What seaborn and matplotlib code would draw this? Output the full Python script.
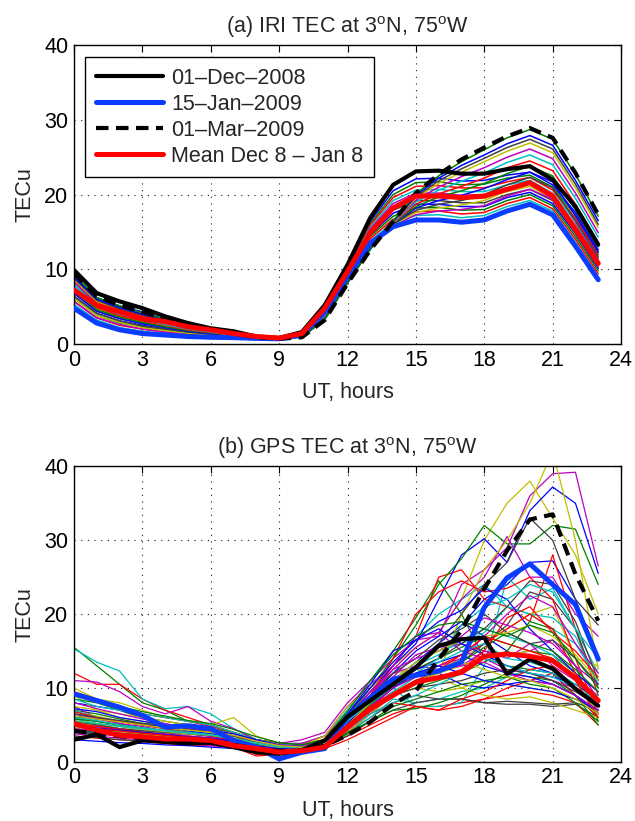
import numpy as np
import pandas as pd
import matplotlib
matplotlib.use("Agg")
import matplotlib.pyplot as plt
import seaborn as sns

hours = list(range(24))

# ---------- Panel (a): IRI TEC ----------
iri_dec01 = [9.9, 6.8, 5.7, 4.8, 3.7, 2.8, 2.1, 1.7, 1.0, 0.8, 1.6, 5.2, 10.6, 16.9, 21.3, 23.1, 23.2, 22.8, 22.8, 23.4, 23.8, 22.0, 18.4, 13.3]
iri_jan15 = [4.8, 2.8, 1.9, 1.4, 1.2, 1.0, 0.9, 0.85, 0.75, 0.7, 1.2, 4.3, 9.0, 13.5, 15.7, 16.6, 16.6, 16.3, 16.6, 17.8, 18.7, 17.3, 13.1, 8.6]
iri_mar01 = [9.5, 6.4, 5.2, 4.3, 3.4, 2.6, 2.0, 1.4, 0.9, 0.7, 0.9, 3.2, 8.1, 12.6, 16.4, 20.2, 22.7, 24.7, 26.3, 27.8, 28.9, 27.6, 22.9, 17.3]
iri_mean = [7.2, 5.2, 4.3, 3.4, 3.0, 2.3, 1.9, 1.4, 1.0, 0.8, 1.4, 4.8, 9.7, 14.9, 18.2, 19.8, 19.8, 19.6, 19.8, 20.7, 21.6, 19.8, 15.3, 10.8]

iri_days = [
    [9.1, 6.2, 5.1, 4.3, 3.3, 2.5, 1.9, 1.6, 1.0, 0.8, 1.5, 5.1, 10.4, 16.4, 20.5, 22.1, 22.2, 21.8, 21.9, 22.6, 23.0, 21.3, 17.6, 12.6],
    [8.7, 5.9, 4.8, 4.0, 3.1, 2.4, 1.8, 1.5, 0.95, 0.8, 1.5, 5.0, 10.2, 16.1, 20.0, 21.6, 21.7, 21.3, 21.4, 22.2, 22.6, 21.0, 17.2, 12.2],
    [8.4, 5.6, 4.6, 3.8, 2.9, 2.3, 1.7, 1.4, 0.9, 0.8, 1.5, 4.9, 10.1, 15.9, 19.6, 21.1, 21.2, 20.9, 20.9, 21.7, 22.3, 20.6, 16.8, 11.9],
    [8.0, 5.3, 4.3, 3.5, 2.7, 2.1, 1.6, 1.35, 0.9, 0.8, 1.45, 4.85, 10.0, 15.6, 19.2, 20.6, 20.7, 20.4, 20.4, 21.3, 21.9, 20.2, 16.4, 11.5],
    [7.6, 5.0, 4.0, 3.3, 2.6, 2.0, 1.6, 1.3, 0.9, 0.8, 1.4, 4.8, 9.9, 15.4, 18.8, 20.2, 20.2, 19.9, 20.0, 20.9, 21.5, 19.9, 16.0, 11.2],
    [7.2, 4.7, 3.7, 3.0, 2.4, 1.85, 1.5, 1.25, 0.88, 0.78, 1.4, 4.75, 9.7, 15.1, 18.3, 19.7, 19.7, 19.4, 19.5, 20.4, 21.1, 19.5, 15.6, 10.8],
    [6.8, 4.4, 3.4, 2.8, 2.2, 1.7, 1.4, 1.2, 0.85, 0.75, 1.4, 4.7, 9.6, 14.9, 17.9, 19.2, 19.2, 18.9, 18.9, 20.0, 20.7, 19.2, 15.2, 10.5],
    [6.4, 4.1, 3.1, 2.5, 2.0, 1.55, 1.3, 1.15, 0.82, 0.72, 1.35, 4.6, 9.5, 14.6, 17.5, 18.7, 18.7, 18.4, 18.4, 19.6, 20.3, 18.8, 14.8, 10.1],
    [6.1, 3.8, 2.8, 2.3, 1.8, 1.4, 1.2, 1.1, 0.8, 0.7, 1.3, 4.5, 9.4, 14.4, 17.1, 18.2, 18.3, 17.9, 18.0, 19.2, 20.0, 18.5, 14.4, 9.8],
    [5.7, 3.5, 2.5, 2.0, 1.6, 1.3, 1.1, 1.0, 0.8, 0.7, 1.25, 4.45, 9.2, 14.1, 16.7, 17.7, 17.8, 17.4, 17.6, 18.8, 19.6, 18.1, 14.0, 9.4],
    [5.3, 3.2, 2.2, 1.7, 1.4, 1.2, 1.0, 0.9, 0.8, 0.7, 1.2, 4.4, 9.1, 13.8, 16.3, 17.2, 17.3, 16.9, 17.2, 18.4, 19.2, 17.8, 13.6, 9.0],
    [5.7, 3.5, 2.6, 2.0, 1.6, 1.3, 1.1, 0.95, 0.8, 0.7, 1.1, 4.1, 8.8, 13.3, 15.8, 17.3, 17.8, 18.0, 18.5, 19.8, 20.7, 19.4, 15.1, 10.3],
    [6.1, 3.8, 2.9, 2.2, 1.8, 1.45, 1.2, 1.0, 0.8, 0.7, 1.1, 4.0, 8.75, 13.25, 15.9, 17.6, 18.2, 18.6, 19.2, 20.5, 21.5, 20.1, 15.8, 10.9],
    [6.4, 4.1, 3.1, 2.4, 2.0, 1.6, 1.3, 1.0, 0.8, 0.7, 1.1, 3.9, 8.7, 13.2, 16.0, 17.9, 18.7, 19.2, 20.0, 21.3, 22.3, 20.9, 16.5, 11.6],
    [6.8, 4.4, 3.4, 2.7, 2.2, 1.7, 1.4, 1.05, 0.8, 0.7, 1.05, 3.85, 8.65, 13.15, 16.05, 18.2, 19.2, 19.9, 20.8, 22.0, 23.0, 21.7, 17.2, 12.3],
    [7.2, 4.6, 3.6, 2.9, 2.3, 1.8, 1.5, 1.1, 0.8, 0.7, 1.0, 3.8, 8.6, 13.1, 16.1, 18.4, 19.7, 20.5, 21.5, 22.8, 23.8, 22.5, 18.0, 13.0],
    [7.5, 4.9, 3.8, 3.1, 2.5, 1.9, 1.55, 1.15, 0.82, 0.7, 1.0, 3.7, 8.5, 13.0, 16.15, 18.7, 20.1, 21.1, 22.2, 23.6, 24.5, 23.2, 18.7, 13.6],
    [7.9, 5.1, 4.0, 3.3, 2.6, 2.0, 1.6, 1.2, 0.85, 0.7, 1.0, 3.6, 8.4, 12.9, 16.2, 19.0, 20.6, 21.8, 22.9, 24.3, 25.3, 24.0, 19.5, 14.3],
    [8.3, 5.4, 4.3, 3.5, 2.8, 2.15, 1.7, 1.25, 0.88, 0.7, 1.0, 3.5, 8.35, 12.85, 16.25, 19.25, 21.0, 22.4, 23.6, 25.0, 26.1, 24.8, 20.2, 14.9],
    [8.6, 5.7, 4.5, 3.7, 3.0, 2.3, 1.8, 1.3, 0.9, 0.7, 1.0, 3.4, 8.3, 12.8, 16.3, 19.5, 21.5, 23.0, 24.4, 25.8, 26.9, 25.6, 20.9, 15.6],
    [8.8, 5.85, 4.7, 3.85, 3.1, 2.35, 1.85, 1.32, 0.9, 0.7, 0.97, 3.35, 8.25, 12.75, 16.35, 19.7, 21.85, 23.45, 24.85, 26.3, 27.4, 26.1, 21.4, 16.0],
    [9.0, 6.0, 4.9, 4.0, 3.2, 2.4, 1.9, 1.35, 0.9, 0.7, 0.95, 3.3, 8.2, 12.7, 16.4, 19.9, 22.2, 23.9, 25.3, 26.8, 27.9, 26.6, 21.9, 16.5],
    [9.3, 6.2, 5.1, 4.2, 3.3, 2.5, 1.95, 1.4, 0.9, 0.7, 0.92, 3.25, 8.15, 12.65, 16.45, 20.1, 22.5, 24.4, 26.0, 27.6, 28.7, 27.4, 22.7, 17.1],
]

# ---------- Panel (b): GPS TEC ----------
gps_dec01 = [3.0, 3.7, 2.0, 2.9, 2.7, 2.5, 2.6, 2.0, 1.3, 1.1, 1.6, 2.9, 6.1, 8.3, 10.5, 12.8, 15.7, 16.6, 16.8, 11.9, 13.9, 12.6, 9.9, 7.6]
gps_jan15 = [9.2, 8.3, 7.4, 6.3, 4.7, 4.9, 4.5, 2.9, 2.0, 0.4, 1.3, 1.8, 6.1, 8.7, 11.2, 11.7, 12.3, 13.5, 20.9, 24.9, 26.8, 24.0, 21.3, 13.9]
gps_mar01 = [4.2, 3.8, 3.5, 3.2, 3.0, 2.9, 2.7, 2.3, 1.8, 1.5, 1.5, 2.2, 3.6, 5.4, 7.8, 9.6, 13.9, 17.8, 23.4, 28.6, 32.8, 33.5, 25.4, 19.1]
gps_mean = [5.2, 4.3, 3.6, 3.4, 3.1, 3.1, 2.9, 2.2, 1.8, 1.3, 1.5, 2.0, 4.7, 7.2, 9.0, 10.8, 11.4, 12.1, 14.3, 14.6, 14.3, 13.7, 11.4, 8.3]

gps_days = [
    [6.5, 6.0, 5.2, 4.5, 4.0, 3.8, 3.5, 3.0, 2.5, 2.0, 2.2, 2.8, 5.5, 8.5, 11.0, 13.5, 16.0, 18.5, 22.0, 24.0, 27.0, 27.2, 22.0, 14.0],
    [15.5, 13.0, 10.5, 8.0, 7.0, 5.5, 5.0, 4.0, 3.0, 2.5, 2.5, 3.0, 7.0, 11.0, 15.0, 19.5, 24.5, 20.0, 14.0, 13.0, 12.5, 12.0, 9.0, 6.0],
    [12.0, 10.5, 10.5, 8.5, 7.0, 6.0, 5.0, 4.0, 2.5, 2.0, 2.5, 3.5, 6.5, 9.0, 13.0, 17.0, 25.0, 26.0, 22.0, 21.0, 19.0, 28.0, 18.0, 9.0],
    [15.3, 13.5, 12.3, 8.5, 7.2, 7.5, 6.5, 4.5, 3.0, 2.5, 2.5, 3.5, 7.0, 11.0, 14.5, 17.0, 20.0, 22.0, 24.0, 21.0, 20.0, 18.0, 16.0, 11.0],
    [11.0, 10.8, 9.5, 7.5, 6.5, 7.5, 5.5, 4.5, 3.0, 2.5, 3.0, 4.0, 8.0, 11.0, 14.0, 16.5, 17.0, 24.0, 26.0, 29.0, 36.0, 39.0, 39.2, 26.5],
    [10.0, 8.5, 8.0, 7.0, 6.0, 5.5, 5.0, 6.0, 3.5, 2.5, 2.0, 3.0, 6.5, 10.0, 13.0, 15.5, 17.5, 22.0, 30.0, 35.0, 38.0, 33.0, 28.0, 20.0],
    [5.0, 4.5, 4.0, 3.5, 3.2, 3.0, 2.8, 2.5, 2.2, 1.8, 1.5, 2.0, 4.0, 6.0, 8.0, 9.0, 8.5, 8.5, 8.0, 7.8, 7.8, 7.5, 7.8, 6.0],
    [8.0, 7.5, 7.0, 6.0, 5.0, 4.5, 4.2, 3.5, 2.8, 2.2, 2.0, 2.8, 6.0, 9.5, 13.0, 16.0, 22.0, 28.0, 30.2, 27.0, 34.0, 37.2, 35.0, 25.5],
    [7.0, 6.5, 5.8, 5.2, 4.8, 4.5, 4.0, 3.5, 2.8, 2.2, 2.0, 3.0, 6.0, 10.0, 14.0, 18.5, 24.0, 27.5, 32.0, 29.5, 29.5, 32.0, 31.5, 24.0],
    [4.5, 4.0, 3.5, 3.2, 3.0, 2.8, 2.5, 2.2, 1.2, 1.0, 1.2, 1.8, 3.0, 4.5, 6.0, 7.5, 7.5, 8.0, 8.5, 9.0, 9.5, 9.0, 8.0, 5.0],
    [5.5, 5.0, 4.5, 4.0, 3.8, 3.5, 3.2, 3.0, 2.5, 2.0, 2.0, 2.5, 5.0, 8.0, 10.0, 7.5, 7.5, 8.0, 13.0, 25.0, 22.0, 23.5, 18.0, 12.0],
    [7.5, 6.0, 5.5, 5.0, 4.5, 4.0, 3.5, 3.0, 2.5, 2.2, 2.5, 3.5, 7.5, 10.5, 13.0, 17.0, 17.5, 22.0, 25.0, 30.5, 25.0, 25.0, 20.0, 17.0],
    [9.0, 7.0, 6.0, 5.5, 5.0, 4.8, 4.5, 4.0, 3.0, 2.5, 2.2, 3.5, 7.5, 10.0, 12.0, 12.5, 12.0, 20.0, 26.0, 30.0, 35.0, 42.0, 30.0, 12.5],
    [6.0, 5.5, 5.0, 4.5, 4.0, 4.5, 4.0, 3.5, 2.5, 2.0, 2.0, 2.5, 5.0, 8.0, 11.0, 13.0, 16.0, 20.0, 24.0, 27.0, 33.0, 30.0, 22.0, 18.5],
    [5.0, 4.5, 4.2, 4.0, 3.5, 3.2, 3.0, 2.5, 2.0, 1.5, 1.8, 2.5, 5.0, 8.5, 12.0, 15.0, 17.0, 19.0, 17.0, 15.0, 13.0, 12.0, 10.0, 8.0],
    [6.0, 5.5, 5.0, 4.5, 4.2, 4.0, 3.8, 3.2, 2.5, 2.0, 1.8, 2.5, 5.0, 7.0, 9.0, 10.0, 11.0, 12.0, 13.5, 15.0, 19.0, 18.0, 13.0, 5.5],
    [3.5, 3.2, 3.0, 2.8, 2.5, 2.3, 2.2, 2.0, 0.8, 1.0, 1.5, 2.5, 3.5, 5.0, 6.5, 7.5, 7.0, 7.5, 8.5, 10.0, 11.0, 12.0, 9.0, 6.0],
    [4.0, 4.2, 3.8, 3.5, 3.2, 3.0, 2.8, 2.5, 2.0, 1.5, 1.5, 2.2, 4.0, 6.0, 8.5, 8.0, 8.5, 9.5, 10.0, 11.5, 12.5, 12.0, 10.0, 7.0],
    [3.8, 3.5, 3.2, 3.0, 2.8, 2.5, 2.2, 2.0, 1.8, 1.6, 1.6, 2.5, 6.0, 9.5, 12.0, 13.0, 12.5, 13.0, 15.0, 14.0, 16.0, 13.0, 11.0, 9.0],
    [6.8, 6.2, 5.5, 5.0, 4.5, 4.2, 4.0, 3.8, 3.0, 2.2, 2.0, 3.0, 5.5, 8.0, 10.5, 12.0, 12.5, 14.0, 16.0, 18.0, 20.0, 21.0, 14.0, 13.0],
    [4.5, 4.2, 4.0, 3.8, 3.5, 3.3, 3.2, 3.0, 2.5, 2.0, 1.8, 2.2, 4.5, 7.0, 9.5, 11.0, 12.0, 13.5, 16.0, 18.5, 23.0, 22.0, 18.0, 10.0],
    [3.0, 2.8, 2.6, 2.5, 2.3, 2.2, 2.0, 1.8, 1.5, 1.3, 1.5, 2.0, 4.0, 6.5, 9.0, 11.0, 12.0, 10.5, 10.0, 10.5, 11.0, 10.5, 9.0, 7.0],
    [8.5, 8.0, 7.0, 6.0, 5.5, 5.0, 4.5, 4.0, 3.0, 2.5, 2.2, 2.8, 5.5, 8.0, 10.5, 12.5, 14.0, 15.5, 17.0, 16.0, 15.0, 14.5, 12.0, 8.0],
    [5.5, 5.0, 4.5, 4.2, 4.0, 3.5, 3.0, 2.5, 2.0, 1.5, 1.5, 2.5, 5.0, 9.0, 14.0, 20.0, 23.0, 24.5, 23.0, 23.5, 25.0, 22.0, 14.0, 6.5],
    [7.0, 6.0, 5.5, 5.0, 4.5, 4.0, 3.8, 3.2, 2.6, 2.2, 2.0, 2.8, 5.5, 8.5, 11.0, 13.5, 15.0, 16.0, 17.5, 21.0, 20.0, 19.5, 17.0, 10.5],
    [4.0, 3.8, 3.5, 3.2, 3.0, 2.8, 2.5, 2.2, 1.8, 1.5, 1.6, 2.2, 5.0, 8.0, 11.5, 14.5, 15.5, 16.0, 15.0, 14.5, 15.0, 16.5, 13.0, 8.5],
    [5.2, 5.0, 4.5, 4.0, 3.8, 3.5, 3.2, 3.0, 2.5, 2.0, 2.0, 2.5, 4.0, 6.5, 9.0, 10.5, 11.5, 10.0, 9.0, 8.5, 8.8, 8.0, 7.0, 6.0],
    [3.5, 3.3, 3.0, 2.8, 2.7, 2.5, 2.4, 2.2, 1.8, 1.5, 1.5, 2.0, 3.5, 5.5, 7.0, 8.0, 8.5, 8.5, 8.0, 8.2, 8.0, 7.8, 8.0, 7.0],
    [6.2, 5.8, 5.5, 5.0, 4.8, 4.2, 3.8, 3.2, 2.5, 2.0, 1.8, 2.8, 6.5, 10.0, 13.5, 16.5, 19.0, 20.5, 23.5, 22.0, 18.0, 15.0, 12.0, 9.5],
    [4.8, 4.5, 4.0, 3.8, 3.5, 3.2, 3.0, 2.8, 2.2, 1.8, 1.6, 2.0, 4.0, 5.5, 7.0, 7.2, 8.0, 9.0, 10.5, 12.0, 11.5, 11.0, 9.0, 5.0],
    [9.5, 8.5, 7.5, 6.5, 6.0, 5.5, 4.8, 4.0, 3.0, 2.5, 2.3, 3.0, 5.0, 7.5, 10.0, 12.0, 13.0, 14.5, 16.0, 18.0, 20.0, 18.0, 12.0, 8.0],
    [5.8, 5.2, 4.8, 4.3, 4.0, 3.8, 3.5, 3.0, 2.4, 2.0, 1.9, 2.6, 5.0, 7.5, 10.5, 13.0, 14.5, 16.5, 18.0, 17.0, 16.0, 14.5, 11.0, 7.5],
    [6.5, 5.8, 5.2, 4.8, 4.2, 3.8, 3.5, 3.0, 2.3, 1.9, 2.0, 2.8, 5.5, 8.5, 11.5, 12.0, 13.0, 14.0, 17.0, 20.0, 22.5, 21.0, 16.0, 12.0],
    [7.5, 7.0, 6.5, 6.0, 5.5, 5.0, 4.5, 3.5, 2.8, 2.0, 2.0, 2.6, 4.5, 7.0, 9.5, 11.0, 12.0, 13.0, 14.0, 14.5, 15.0, 14.0, 11.0, 6.5],
    [5.5, 5.0, 4.5, 4.2, 4.0, 3.8, 3.5, 3.2, 2.6, 2.2, 1.8, 2.2, 4.5, 7.5, 10.0, 12.5, 14.0, 16.0, 18.0, 21.0, 24.5, 24.0, 19.0, 11.0],
    [4.2, 4.0, 3.6, 3.3, 3.0, 2.8, 2.6, 2.3, 1.9, 1.6, 1.7, 2.4, 5.2, 8.2, 11.0, 12.5, 13.5, 14.5, 13.0, 12.0, 11.5, 10.5, 9.0, 6.5],
    [5.8, 5.5, 5.0, 4.6, 4.2, 3.9, 3.6, 3.0, 2.4, 2.0, 1.8, 2.3, 4.8, 7.8, 10.2, 11.5, 12.5, 13.5, 15.5, 17.5, 16.0, 15.0, 12.5, 9.5],
    [6.8, 6.0, 5.5, 5.0, 4.5, 4.0, 3.5, 2.8, 1.0, 1.2, 1.6, 2.4, 4.5, 6.5, 8.0, 7.5, 7.0, 8.5, 9.5, 11.0, 12.5, 13.0, 10.0, 7.5],
    [8.5, 7.5, 7.0, 6.5, 6.0, 5.5, 5.0, 4.0, 3.0, 2.4, 2.2, 2.8, 5.5, 8.0, 10.0, 12.0, 14.0, 18.5, 21.0, 22.0, 24.0, 23.0, 18.0, 14.0],
    [5.0, 4.8, 4.4, 4.0, 3.8, 3.5, 3.3, 2.8, 2.2, 1.8, 1.7, 2.5, 6.0, 9.5, 12.5, 15.5, 17.5, 15.0, 14.0, 12.5, 12.0, 11.0, 10.0, 7.5],
    [4.5, 4.3, 4.0, 3.7, 3.5, 3.2, 3.0, 2.7, 2.2, 1.9, 1.8, 2.4, 4.5, 7.0, 9.0, 10.0, 9.5, 10.0, 11.0, 10.5, 10.0, 9.5, 8.5, 7.0],
    [6.5, 6.0, 5.6, 5.2, 5.0, 4.6, 4.2, 3.5, 2.7, 2.2, 2.0, 2.7, 5.8, 9.0, 12.0, 14.0, 16.5, 18.0, 20.0, 17.5, 16.0, 16.5, 14.0, 10.5],
    [7.2, 6.8, 6.0, 5.5, 5.0, 4.6, 4.3, 3.8, 3.0, 2.3, 2.1, 2.8, 6.5, 10.5, 15.0, 16.5, 18.0, 16.0, 14.5, 13.0, 12.0, 11.5, 10.5, 8.5],
    [4.2, 4.0, 3.8, 3.5, 3.3, 3.1, 2.9, 2.6, 2.1, 1.7, 1.6, 2.1, 3.8, 5.5, 7.5, 8.5, 9.5, 10.5, 11.0, 11.5, 10.5, 10.0, 8.0, 5.5],
    [5.2, 4.8, 4.4, 4.0, 3.6, 3.4, 3.1, 2.7, 2.1, 1.7, 1.7, 2.6, 5.0, 7.5, 9.5, 10.5, 11.5, 12.5, 15.0, 19.5, 21.0, 17.5, 15.0, 11.5],
    [6.0, 5.6, 5.0, 4.6, 4.3, 4.0, 3.7, 3.2, 2.6, 2.1, 1.9, 2.5, 4.8, 7.2, 9.5, 11.5, 13.5, 15.0, 16.0, 14.0, 13.5, 12.5, 10.5, 9.0],
    [8.0, 7.2, 6.5, 5.8, 5.2, 4.6, 4.2, 3.6, 2.8, 2.3, 2.1, 2.9, 6.0, 9.0, 12.5, 14.0, 15.0, 17.0, 19.5, 18.5, 17.5, 16.0, 13.0, 10.5],
    [5.6, 5.2, 4.8, 4.4, 4.1, 3.8, 3.6, 3.2, 2.5, 2.0, 1.9, 2.7, 5.0, 8.0, 11.0, 13.5, 15.0, 16.5, 17.0, 17.5, 18.5, 17.0, 14.5, 11.0],
    [4.0, 3.8, 3.6, 3.4, 3.2, 3.0, 2.8, 2.6, 2.1, 1.7, 1.6, 2.3, 4.5, 7.0, 9.0, 10.0, 10.5, 11.0, 12.0, 12.5, 12.0, 11.0, 9.5, 7.5],
    [5.0, 4.6, 4.3, 4.0, 3.7, 3.4, 3.2, 2.8, 2.2, 1.8, 1.7, 2.4, 4.8, 7.5, 10.0, 12.0, 13.0, 12.0, 11.0, 10.5, 10.0, 9.5, 8.5, 7.0],
    [9.0, 8.2, 7.5, 6.8, 6.2, 5.6, 5.2, 4.4, 3.4, 2.6, 2.3, 3.0, 6.8, 11.0, 14.5, 17.0, 18.5, 19.0, 18.0, 17.0, 18.5, 17.5, 14.0, 10.0],
    [4.8, 4.5, 4.2, 3.9, 3.6, 3.3, 3.0, 2.6, 2.0, 1.6, 1.5, 2.2, 4.3, 6.8, 9.0, 11.0, 12.5, 14.5, 17.0, 16.0, 15.0, 14.0, 11.0, 6.0],
    [5.5, 5.2, 4.8, 4.5, 4.2, 3.9, 3.6, 3.1, 2.5, 2.0, 1.9, 2.5, 4.5, 6.5, 8.0, 9.0, 10.5, 12.0, 14.0, 13.0, 12.0, 11.5, 10.0, 8.0],
    [4.5, 4.2, 3.9, 3.6, 3.3, 3.0, 2.8, 2.5, 2.0, 1.7, 1.7, 2.4, 5.0, 7.5, 10.0, 11.5, 12.5, 13.0, 13.5, 12.0, 11.0, 10.5, 9.0, 7.0],
    [6.2, 5.8, 5.4, 5.0, 4.6, 4.3, 4.0, 3.6, 2.8, 2.2, 2.0, 2.6, 4.8, 7.0, 9.0, 10.5, 12.0, 13.5, 12.5, 11.5, 11.0, 10.0, 8.5, 6.5],
]

legend_labels = ["01\u2013Dec\u20132008", "15\u2013Jan\u20132009", "01\u2013Mar\u20132009", "Mean Dec 8 \u2013 Jan 8"]
x_ticks = [0, 3, 6, 9, 12, 15, 18, 21, 24]
y_ticks = [0, 10, 20, 30, 40]

matlab_colors = [(0, 0, 1), (0, 0.5, 0), (1, 0, 0), (0, 0.75, 0.75),
                 (0.75, 0, 0.75), (0.75, 0.75, 0), (0.25, 0.25, 0.25)]

sns.set_theme(style="white")
plt.rcParams['font.family'] = ['Liberation Sans', 'DejaVu Sans']
plt.rcParams['mathtext.fontset'] = 'custom'
plt.rcParams['mathtext.rm'] = 'Liberation Sans'
plt.rcParams['mathtext.it'] = 'Liberation Sans'

FS = 15.5

fig = plt.figure(figsize=(6.35, 8.21), dpi=100)
ax_a = fig.add_axes([0.1165, 0.581, 0.8615, 0.364])
ax_b = fig.add_axes([0.1165, 0.072, 0.8615, 0.360])

THICK_BLUE = '#0a3cff'


def draw_panel(ax, days, dec, jan, mar, mean, title, thin_lw):
    for i, d in enumerate(days):
        sns.lineplot(x=hours, y=d, ax=ax, color=matlab_colors[i % 7], lw=thin_lw,
                     legend=False, zorder=2)
    sns.lineplot(x=hours, y=mean, ax=ax, color='red', lw=3.6, zorder=5, label=legend_labels[3])
    sns.lineplot(x=hours, y=jan, ax=ax, color=THICK_BLUE, lw=3.6, zorder=4, label=legend_labels[1])
    sns.lineplot(x=hours, y=dec, ax=ax, color='black', lw=3.0, zorder=4, label=legend_labels[0])
    sns.lineplot(x=hours, y=mar, ax=ax, color='black', lw=3.0, zorder=4, label=legend_labels[2])
    ax.lines[-1].set_dashes((3.0, 1.8))
    ax.set_xlim(0, 24)
    ax.set_ylim(0, 40)
    ax.set_xticks(x_ticks)
    ax.set_yticks(y_ticks)
    ax.tick_params(axis='both', which='both', direction='in', top=True, right=True,
                   labelsize=FS, length=5, width=0.8, color='black', pad=4)
    ax.grid(True, linestyle=(0, (1, 5)), color='black', lw=0.8, alpha=0.9)
    for s in ax.spines.values():
        s.set_color('black')
        s.set_linewidth(1.0)
    ax.set_xlabel("UT, hours", fontsize=FS, labelpad=8)
    ax.set_ylabel("TECu", fontsize=FS, labelpad=6)
    ax.set_title(title, fontsize=FS, pad=9)
    for t in ax.get_xticklabels() + ax.get_yticklabels():
        t.set_color('black')


draw_panel(ax_a, iri_days, iri_dec01, iri_jan15, iri_mar01, iri_mean,
           "(a) IRI TEC at 3$^{\\mathrm{o}}$N, 75$^{\\mathrm{o}}$W", 1.1)
draw_panel(ax_b, gps_days, gps_dec01, gps_jan15, gps_mar01, gps_mean,
           "(b) GPS TEC at 3$^{\\mathrm{o}}$N, 75$^{\\mathrm{o}}$W", 0.9)

# legend only in panel (a)
lines_a = ax_a.lines
h_dec, h_jan, h_mar, h_mean = lines_a[-2], lines_a[-3], lines_a[-1], lines_a[-4]
leg = ax_a.legend([h_dec, h_jan, h_mar, h_mean], legend_labels, loc='upper left',
                  bbox_to_anchor=(0.020, 0.96), fontsize=FS, frameon=True, fancybox=False,
                  framealpha=1, edgecolor='black', handlelength=3.15, handletextpad=0.35,
                  labelspacing=0.23, borderpad=0.5, borderaxespad=0.0)
leg.get_frame().set_linewidth(1.0)
leg.set_zorder(10)
if ax_b.get_legend() is not None:
    ax_b.get_legend().remove()

fig.savefig("out.png", dpi=100, facecolor='white')
